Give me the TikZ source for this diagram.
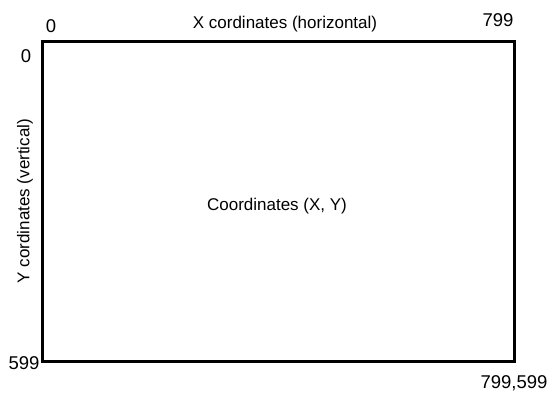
\documentclass[tikz,border=0pt]{standalone}
\usepackage{fontspec}
\setmainfont{Liberation Sans}
\begin{document}
\begin{tikzpicture}[x=1bp,y=-1bp,
  lbl/.style={inner sep=0pt,font=\fontsize{17bp}{20bp}\selectfont},
  num/.style={inner sep=0pt,font=\fontsize{18.5bp}{22bp}\selectfont},
  frame/.style={draw=black,line width=3bp}]
\useasboundingbox (0,0) rectangle (549,394);
\node[frame,minimum width=471bp,minimum height=320bp,inner sep=0pt] (box) at (278.5,201.5) {};
\node[num] (x0) at (51,26) {0};
\node[lbl] (xt) at (285,24) {X cordinates (horizontal)};
\node[num] (x799) at (498,20) {799};
\node[num] (y0) at (26,56) {0};
\node[lbl,rotate=90] (yt) at (25,201) {Y cordinates (vertical)};
\node[lbl] (c) at (277,206) {Coordinates (X, Y)};
\node[num] (y599) at (24,363) {599};
\node[num] (xy) at (514,383) {799,599};
\end{tikzpicture}
\end{document}
